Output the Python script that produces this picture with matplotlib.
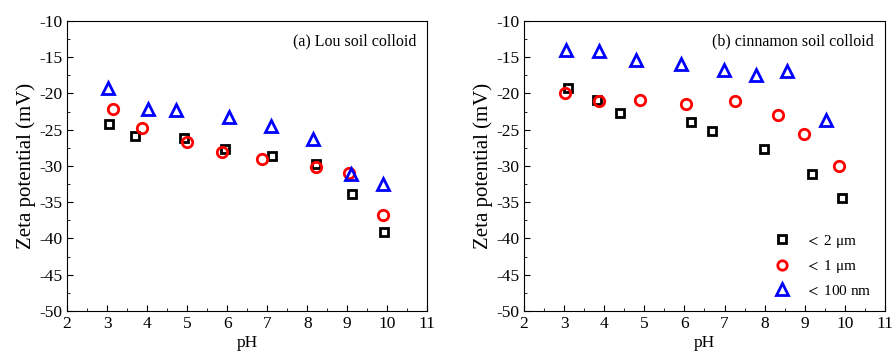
import matplotlib.pyplot as plt
from matplotlib.ticker import MultipleLocator

plt.rcParams['font.family'] = ['Liberation Serif', 'DejaVu Serif']
plt.rcParams['mathtext.fontset'] = 'stix'
plt.rcParams['axes.unicode_minus'] = False

# (a) Lou soil colloid
lou_ph_2um = [3.06, 3.70, 4.91, 5.94, 7.12, 8.21, 9.13, 9.93]
lou_zeta_2um = [-24.2, -25.8, -26.1, -27.7, -28.6, -29.7, -33.8, -39.1]
lou_ph_1um = [3.14, 3.87, 4.99, 5.87, 6.86, 8.21, 9.04, 9.90]
lou_zeta_1um = [-22.2, -24.7, -26.7, -28.1, -29.1, -30.1, -31.0, -36.8]
lou_ph_100nm = [3.02, 4.02, 4.71, 6.05, 7.10, 8.14, 9.10, 9.90]
lou_zeta_100nm = [-19.3, -22.2, -22.3, -23.3, -24.5, -26.3, -31.1, -32.5]

# (b) cinnamon soil colloid
cin_ph_2um = [3.11, 3.81, 4.39, 6.16, 6.69, 7.99, 9.19, 9.92]
cin_zeta_2um = [-19.3, -20.9, -22.7, -23.9, -25.2, -27.7, -31.1, -34.4]
cin_ph_1um = [3.03, 3.86, 4.89, 6.03, 7.26, 8.34, 8.99, 9.84]
cin_zeta_1um = [-19.9, -21.0, -20.9, -21.4, -21.0, -22.9, -25.6, -30.0]
cin_ph_100nm = [3.06, 3.86, 4.80, 5.91, 6.98, 7.79, 8.55, 9.53]
cin_zeta_100nm = [-14.0, -14.1, -15.4, -15.9, -16.7, -17.5, -16.9, -23.6]

labels = ['$<$ 2 μm', '$<$ 1 μm', '$<$ 100 nm']


def draw_panel(ax, series, title):
    styles = [('s', 'black', 6), ('o', 'red', 7.5), ('^', 'blue', 9)]
    for (x, y), (m, c, ms), lab in zip(series, styles, labels):
        ax.plot(x, y, linestyle='none', marker=m, markersize=ms,
                markerfacecolor='none', markeredgecolor=c,
                markeredgewidth=2, label=lab)
    ax.set_xlim(2, 11)
    ax.set_ylim(-50, -10)
    ax.xaxis.set_major_locator(MultipleLocator(1))
    ax.xaxis.set_minor_locator(MultipleLocator(0.5))
    ax.yaxis.set_major_locator(MultipleLocator(5))
    ax.yaxis.set_minor_locator(MultipleLocator(2.5))
    ax.tick_params(which='both', direction='in', labelsize=12.5)
    ax.tick_params(which='major', length=4)
    ax.tick_params(which='minor', length=2)
    ax.set_xlabel('pH', fontsize=12.5, labelpad=2)
    ax.set_ylabel('Zeta potential (mV)', fontsize=15, labelpad=2)
    ax.text(0.97, 0.93, title, transform=ax.transAxes, ha='right',
            va='center', fontsize=11.5)


fig = plt.figure(figsize=(8.94, 3.62), dpi=100)
ax1 = fig.add_axes([0.075, 0.141, 0.403, 0.801])
ax2 = fig.add_axes([0.586, 0.141, 0.404, 0.801])

draw_panel(ax1, [(lou_ph_2um, lou_zeta_2um), (lou_ph_1um, lou_zeta_1um),
                 (lou_ph_100nm, lou_zeta_100nm)], '(a) Lou soil colloid')
draw_panel(ax2, [(cin_ph_2um, cin_zeta_2um), (cin_ph_1um, cin_zeta_1um),
                 (cin_ph_100nm, cin_zeta_100nm)], '(b) cinnamon soil colloid')

ax2.legend(loc='lower right', frameon=False, fontsize=11, markerscale=0.9,
           handletextpad=0.5, labelspacing=0.55,
           bbox_to_anchor=(1.0, 0.0))

fig.savefig('out.png', dpi=100)
